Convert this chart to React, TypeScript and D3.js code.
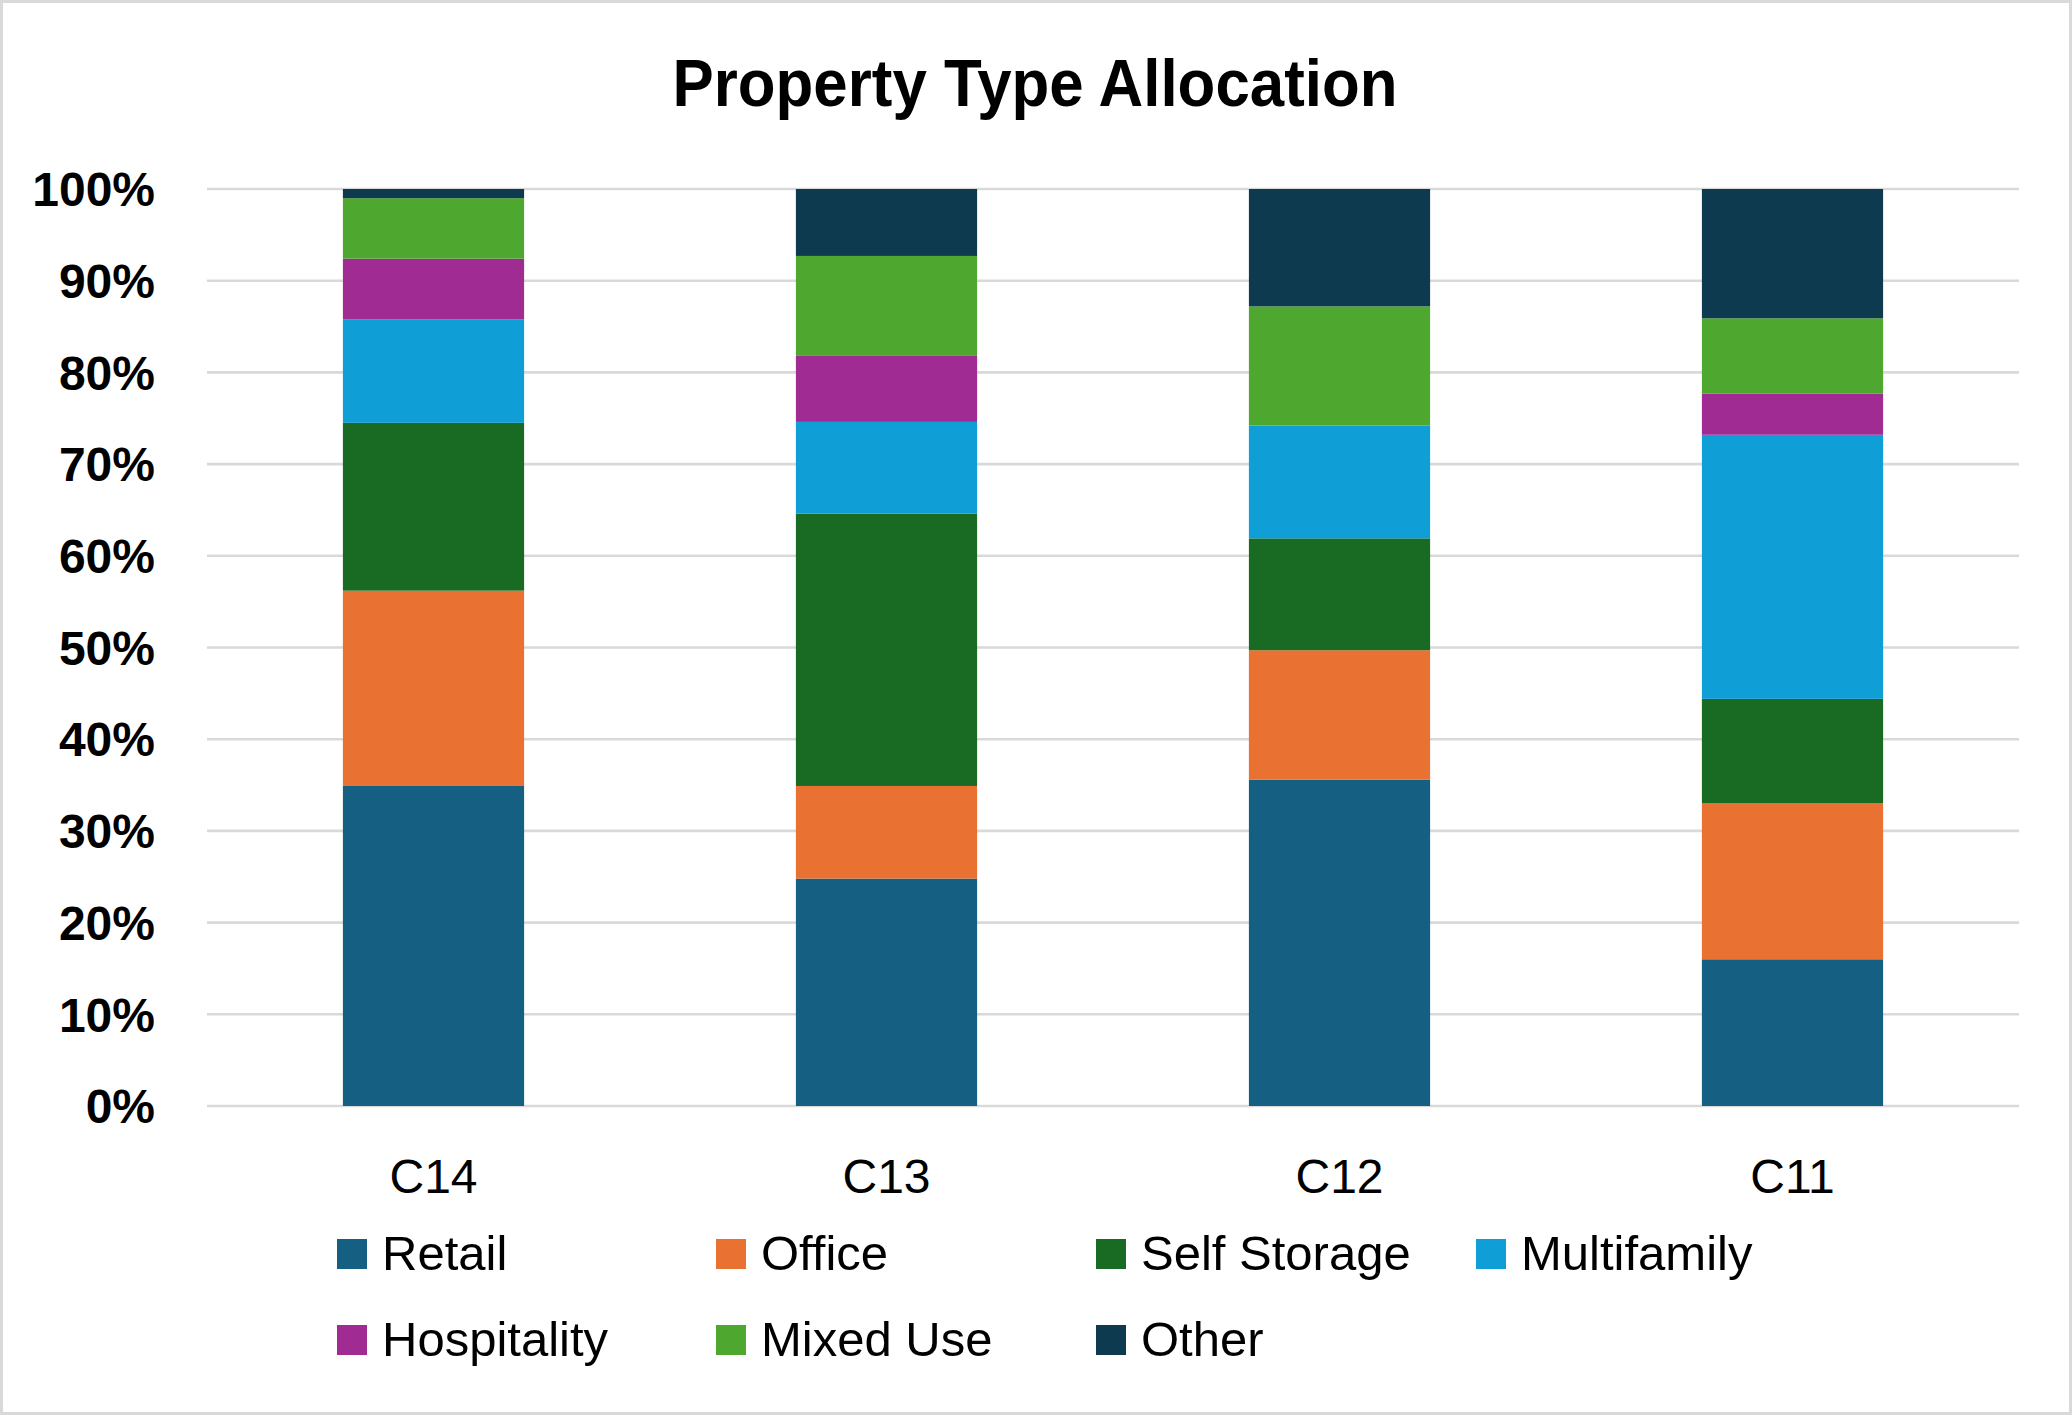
import React from "react";
import * as d3 from "d3";

const categories = ["C14", "C13", "C12", "C11"];
const seriesNames = ["Retail", "Office", "Self Storage", "Multifamily", "Hospitality", "Mixed Use", "Other"];
const retail = [34.9, 24.8, 35.6, 16.0];
const office = [21.3, 10.1, 14.1, 17.0];
const selfStorage = [18.3, 29.7, 12.2, 11.4];
const multifamily = [11.3, 10.0, 12.3, 28.8];
const hospitality = [6.6, 7.2, 0, 4.5];
const mixedUse = [6.6, 10.9, 13.0, 8.2];
const other = [1.0, 7.3, 12.8, 14.1];
const seriesColors = ["#156082", "#E97132", "#196B24", "#0F9ED5", "#A02B93", "#4EA72E", "#0E3A50"];
const yTicks = [0, 10, 20, 30, 40, 50, 60, 70, 80, 90, 100];
const title = "Property Type Allocation";

const W = 2072;
const H = 1415;
const FONT = "'Liberation Sans', Arial, sans-serif";

export default function App() {
  const seriesValues = [retail, office, selfStorage, multifamily, hospitality, mixedUse, other];
  const rows = categories.map((c, i) => {
    const r: Record<string, any> = { cat: c };
    seriesNames.forEach((s, k) => (r[s] = seriesValues[k][i]));
    return r;
  });
  const stacked = d3.stack<any>().keys(seriesNames)(rows);

  const x = d3.scaleBand<string>().domain(categories).range([207, 2019]).paddingInner(0.6).paddingOuter(0.3);
  const y = d3.scaleLinear().domain([0, 100]).range([1106, 189]);

  const legendCols = [337, 716, 1096, 1476];
  const legendRows = [1270, 1356];

  return (
    <svg width={W} height={H} style={{ position: "absolute", left: 0, top: 0, display: "block", background: "#fff" }}>
      <rect x={1.5} y={1.5} width={W - 3} height={H - 3} fill="#fff" stroke="#d9d9d9" strokeWidth={3} />
      <text x={1035} y={106} textAnchor="middle" fontFamily={FONT} fontWeight="bold" fontSize={66}
        textLength={725} lengthAdjust="spacingAndGlyphs" fill="#000">{title}</text>
      {yTicks.map((t) => (
        <g key={t}>
          <line x1={207} x2={2019} y1={y(t)} y2={y(t)} stroke="#d9d9d9" strokeWidth={2.6} />
          <text x={155} y={y(t)} dy="0.36em" textAnchor="end" fontFamily={FONT} fontWeight="bold" fontSize={48} fill="#000">
            {t + "%"}
          </text>
        </g>
      ))}
      {stacked.map((layer, k) => (
        <g key={layer.key} fill={seriesColors[k]}>
          {layer.map((d, i) => {
            const h = y(d[0]) - y(d[1]);
            if (h <= 0) return null;
            return <rect key={i} x={x(categories[i])!} width={x.bandwidth()} y={y(d[1])} height={h} />;
          })}
        </g>
      ))}
      {categories.map((c) => (
        <text key={c} x={x(c)! + x.bandwidth() / 2} y={1193} textAnchor="middle" fontFamily={FONT} fontSize={48} fill="#000">
          {c}
        </text>
      ))}
      {seriesNames.map((s, k) => {
        const col = k % 4;
        const row = Math.floor(k / 4);
        const lx = legendCols[col];
        const ly = legendRows[row];
        return (
          <g key={s}>
            <rect x={lx} y={ly - 31} width={30} height={30} fill={seriesColors[k]} />
            <text x={lx + 45} y={ly} fontFamily={FONT} fontSize={49} fill="#000">{s}</text>
          </g>
        );
      })}
    </svg>
  );
}
